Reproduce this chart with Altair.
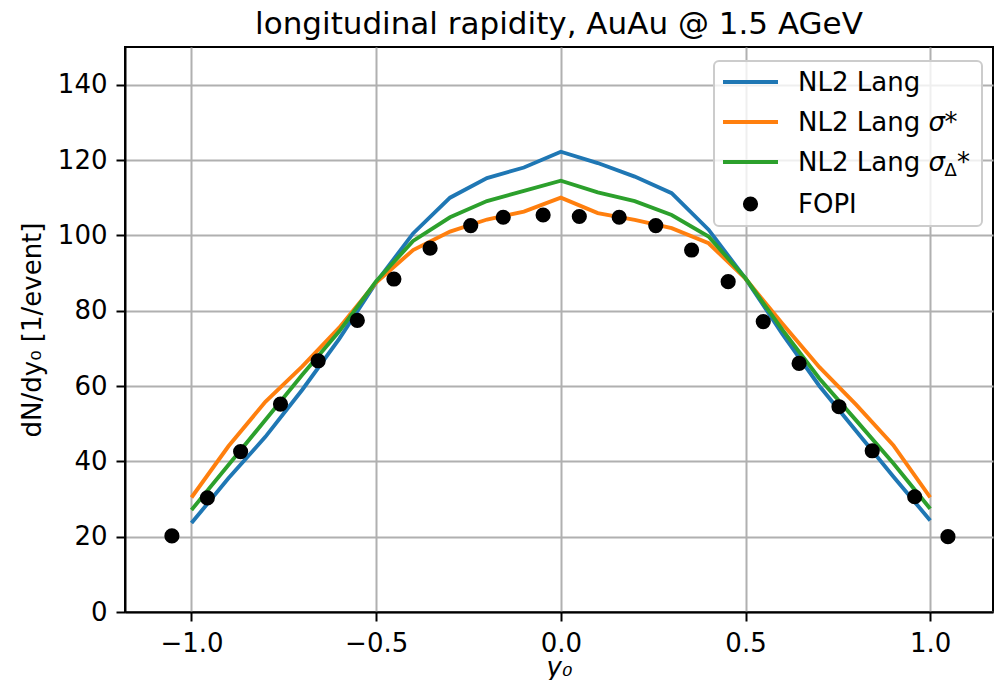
import altair as alt
import pandas as pd

FONT = "DejaVu Sans"

# ---- data ----
y0_model = [-1.0, -0.9, -0.8, -0.7, -0.6, -0.5, -0.4, -0.3, -0.2, -0.1, 0.0,
            0.1, 0.2, 0.3, 0.4, 0.5, 0.6, 0.7, 0.8, 0.9, 1.0]
nl2_lang = [23.6, 35.5, 46.5, 59.0, 72.5, 87.5, 100.5, 110.0, 115.2, 118.0, 122.2,
            119.2, 115.6, 111.2, 101.5, 88.5, 73.8, 60.0, 48.0, 36.0, 24.3]
nl2_lang_sigma = [30.4, 44.0, 55.8, 65.2, 75.5, 87.5, 96.1, 101.0, 104.2, 106.3, 110.0,
                  105.9, 104.1, 101.9, 97.9, 88.5, 76.5, 65.0, 55.0, 44.3, 30.4]
nl2_lang_sigma_delta = [27.1, 39.0, 51.0, 63.0, 74.5, 87.8, 98.5, 104.8, 109.1, 111.8, 114.5,
                        111.4, 109.1, 105.4, 99.7, 88.6, 74.9, 62.0, 50.8, 39.5, 27.4]

fopi_y0 = [-1.053, -0.957, -0.867, -0.759, -0.657, -0.551, -0.452, -0.354, -0.244, -0.156, -0.048,
           0.050, 0.158, 0.257, 0.354, 0.453, 0.548, 0.645, 0.753, 0.843, 0.958, 1.048]
fopi_dndy = [20.2, 30.3, 42.6, 55.2, 66.7, 77.4, 88.4, 96.6, 102.6, 104.8, 105.4,
             105.0, 104.8, 102.6, 96.1, 87.7, 77.1, 66.0, 54.5, 42.8, 30.6, 20.0]

series_names = ["NL2 Lang", "NL2 Lang σ*", "NL2 Lang σΔ*", "FOPI"]
series_colors = ["#1f77b4", "#ff7f0e", "#2ca02c", "#000000"]

x_ticks = [-1.0, -0.5, 0.0, 0.5, 1.0]
y_ticks = [0, 20, 40, 60, 80, 100, 120, 140]

W, H = 868, 565

x_scale = alt.Scale(domain=[-1.18, 1.17], nice=False, zero=False)
y_scale = alt.Scale(domain=[0, 150], nice=False, zero=False)
x_axis = alt.Axis(values=x_ticks, format=".1f", title="y₀", titleFontStyle="italic",
                  titleBaseline="alphabetic", titleY=63, grid=True)
y_axis = alt.Axis(values=y_ticks, title="dN/dy₀ [1/event]", titlePadding=12, grid=True)

layers = []
for vals, color in zip([nl2_lang, nl2_lang_sigma, nl2_lang_sigma_delta], series_colors[:3]):
    df = pd.DataFrame({"y0": y0_model, "dndy": vals})
    layers.append(
        alt.Chart(df).mark_line(color=color, strokeWidth=3.9).encode(
            x=alt.X("y0:Q", scale=x_scale, axis=x_axis),
            y=alt.Y("dndy:Q", scale=y_scale, axis=y_axis),
        )
    )

fopi_df = pd.DataFrame({"y0": fopi_y0, "dndy": fopi_dndy})
layers.append(
    alt.Chart(fopi_df).mark_circle(size=230, color="black", opacity=1).encode(
        x=alt.X("y0:Q", scale=x_scale, axis=x_axis),
        y=alt.Y("dndy:Q", scale=y_scale, axis=y_axis),
    )
)

# ---- legend (drawn inside the plot, upper right) ----
one = pd.DataFrame({"k": [0]})
box = alt.Chart(one).mark_rect(fill="white", fillOpacity=0.8, stroke="#cccccc",
                               strokeWidth=2, cornerRadius=5).encode(
    x=alt.value(589), x2=alt.value(857), y=alt.value(14), y2=alt.value(179))
layers.append(box)

row_y = [35, 75, 115, 157]
text_x = 673

def txt(s, x, y, size=26, style="normal"):
    return alt.Chart(one).mark_text(text=s, font=FONT, fontSize=size, fontStyle=style,
                                    align="left", baseline="alphabetic", color="black").encode(
        x=alt.value(x), y=alt.value(y))

for i, (name, color) in enumerate(zip(series_names, series_colors)):
    ry = row_y[i]
    if name == "FOPI":
        layers.append(alt.Chart(one).mark_circle(size=230, color=color, opacity=1).encode(
            x=alt.value(625.5), y=alt.value(ry)))
    else:
        layers.append(alt.Chart(one).mark_rule(color=color, strokeWidth=3.9).encode(
            x=alt.value(598), x2=alt.value(653), y=alt.value(ry)))
    base = ry + 9
    if i == 0:
        layers.append(txt("NL2 Lang", text_x, base))
    elif i == 1:
        layers.append(txt("NL2 Lang", text_x, base))
        layers.append(txt("σ", text_x + 130.4, base, style="italic"))
        layers.append(txt("*", text_x + 146.5, base))
    elif i == 2:
        layers.append(txt("NL2 Lang", text_x, base))
        layers.append(txt("σ", text_x + 130.4, base, style="italic"))
        layers.append(txt("Δ", text_x + 146.5, base + 5, size=18))
        layers.append(txt("*", text_x + 159.0, base))
    else:
        layers.append(txt("FOPI", text_x, base))

chart = alt.layer(*layers).properties(
    width=W, height=H,
    title=alt.Title("longitudinal rapidity, AuAu @ 1.5 AGeV", font=FONT, fontSize=31,
                    fontWeight="normal", color="black", anchor="middle", offset=6),
    autosize=alt.AutoSizeParams(type="none"),
    padding={"left": 117, "top": 39, "right": 1, "bottom": 68},
    background="white",
).configure_axis(
    labelFont=FONT, labelFontSize=26, labelColor="black",
    titleFont=FONT, titleFontSize=26, titleColor="black", titleFontWeight="normal",
    domainColor="black", domainWidth=2, tickColor="black", tickWidth=2, tickSize=9,
    labelPadding=9, gridColor="#b0b0b0", gridWidth=2, labelFlush=False, labelOverlap=False,
).configure_view(stroke="black", strokeWidth=2)

chart.save("out.html", embed_options={"renderer": "svg", "actions": False})
